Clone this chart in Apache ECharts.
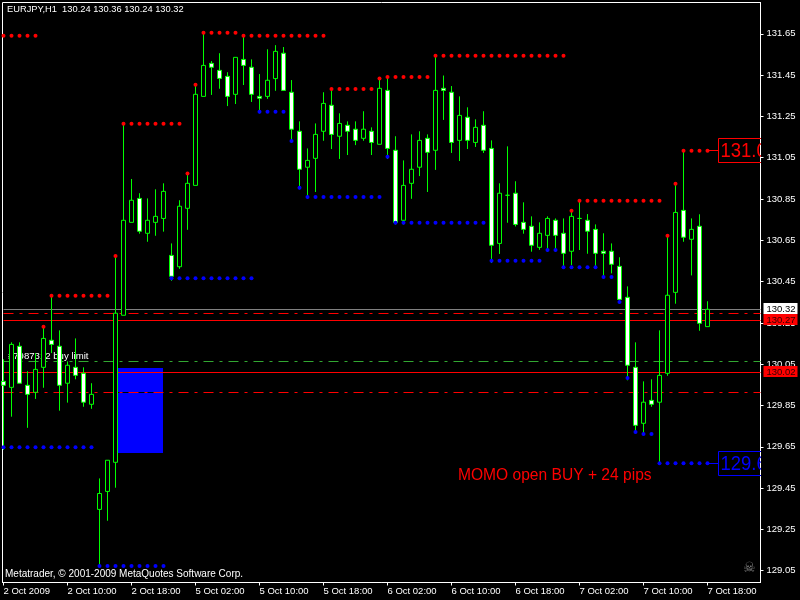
<!DOCTYPE html>
<html>
<head>
<meta charset="utf-8">
<style>html,body{margin:0;padding:0;background:#000;overflow:hidden}#c{width:800px;height:600px}</style>
<script src="https://cdn.jsdelivr.net/npm/echarts@6/dist/echarts.min.js"></script>
</head>
<body>
<div id="c"></div>
<script>
const opens = [129.967,129.938,130.137,129.948,129.914,130.035,130.166,130.137,129.958,130.035,130.006,129.856,129.347,129.434,129.575,130.287,130.737,130.853,130.684,130.737,130.756,130.577,130.522,130.805,130.916,131.347,131.507,131.473,131.444,131.357,131.526,131.488,131.347,131.347,131.433,131.556,131.367,131.178,131.004,131.047,131.178,131.304,131.154,131.207,131.188,131.144,131.178,131.115,131.376,131.086,130.747,130.926,131.004,131.144,131.086,131.386,131.367,131.134,131.246,131.124,131.207,131.095,130.635,130.868,130.878,130.737,130.718,130.616,130.674,130.747,130.684,130.597,130.756,130.747,130.703,130.597,130.597,130.524,130.374,130.035,129.764,129.875,129.866,130.006,130.398,130.795,130.655,130.718,130.232];
const closes = [129.948,130.146,129.958,129.904,130.025,130.175,130.146,129.948,130.045,129.996,129.866,129.904,129.424,129.585,130.297,130.747,130.844,130.694,130.747,130.766,130.887,130.476,130.815,130.926,131.357,131.497,131.488,131.434,131.347,131.536,131.497,131.357,131.338,131.425,131.565,131.376,131.188,130.994,131.037,131.163,131.313,131.163,131.216,131.178,131.134,131.188,131.124,131.386,131.095,130.737,130.916,130.994,131.134,131.076,131.376,131.376,131.124,131.255,131.134,131.197,131.086,130.626,130.878,130.868,130.727,130.703,130.626,130.684,130.756,130.674,130.587,130.766,130.756,130.694,130.587,130.587,130.534,130.364,130.045,129.754,129.866,129.856,129.996,130.384,130.785,130.665,130.703,130.248,130.316];
const highs = [130.074,130.156,130.156,130.016,130.103,130.232,130.382,130.214,130.064,130.175,130.035,129.958,129.497,129.585,130.575,131.215,130.947,130.878,130.853,130.897,130.926,130.635,130.844,130.973,131.404,131.655,131.518,131.556,131.464,131.536,131.636,131.526,131.455,131.575,131.595,131.586,131.426,131.226,131.095,131.216,131.367,131.381,131.265,131.226,131.226,131.275,131.197,131.433,131.439,131.154,131.037,131.163,131.178,131.163,131.544,131.448,131.397,131.347,131.294,131.236,131.275,131.134,130.926,131.105,130.936,130.834,130.766,130.737,130.766,130.756,130.756,130.793,130.841,130.777,130.727,130.684,130.635,130.568,130.427,130.156,129.967,129.977,130.214,130.672,130.924,131.084,130.756,130.776,130.355];
const lows = [129.635,129.796,129.958,129.742,129.882,129.936,130.104,129.825,129.864,129.977,129.844,129.834,129.069,129.292,129.452,130.287,130.737,130.682,130.643,130.672,130.692,130.454,130.512,130.701,130.916,131.347,131.354,131.384,131.300,131.310,131.402,131.320,131.265,131.335,131.374,131.376,131.123,130.897,130.851,130.884,131.132,131.092,131.044,131.063,131.111,131.132,131.063,131.115,131.044,130.727,130.727,130.851,130.961,130.884,130.991,131.233,131.073,131.034,131.092,131.102,131.073,130.540,130.584,130.735,130.717,130.682,130.595,130.604,130.595,130.595,130.514,130.530,130.603,130.585,130.514,130.466,130.490,130.345,129.972,129.715,129.708,129.844,129.570,129.994,130.343,130.643,130.480,130.212,130.232];

const timeLabels = ['2 Oct 2009','2 Oct 10:00','2 Oct 18:00','5 Oct 02:00','5 Oct 10:00','5 Oct 18:00','6 Oct 02:00','6 Oct 10:00','6 Oct 18:00','7 Oct 02:00','7 Oct 10:00','7 Oct 18:00'];
const timeTicks = [0,8,16,24,32,40,48,56,64,72,80,88];
const priceTicks = [129.05,129.25,129.45,129.65,129.85,130.05,130.25,130.45,130.65,130.85,131.05,131.25,131.45,131.65];

// [first bar, last bar, price]
const resistanceRuns = [[0,4,131.641],[5,5,130.232],[6,13,130.382],[14,14,130.574],[15,22,131.215],[23,23,130.973],[24,24,131.403],[25,29,131.655],[30,40,131.641],[41,46,131.383],[47,47,131.433],[48,53,131.441],[54,70,131.544],[71,71,130.793],[72,82,130.841],[83,83,130.672],[84,84,130.924],[85,88,131.084]];
const supportRuns = [[0,11,129.648],[12,20,129.073],[21,31,130.466],[32,35,131.272],[36,36,131.131],[37,37,130.904],[38,47,130.860],[48,48,131.055],[49,60,130.735],[61,67,130.551],[68,69,130.603],[70,74,130.520],[75,76,130.472],[77,77,130.351],[78,78,129.983],[79,79,129.722],[80,81,129.712],[82,88,129.571]];

const levelPrices = [130.315,130.296,130.263,130.065,130.012,129.915];
const levelColors = ['#808080','#ff0000','#ff0000','#32a832','#ff0000','#ff0000'];
const levelDashes = [null,[10,6,3,6],null,[10,6,3,6],null,[10,6,3,6]];

const tagPrices = [130.315,130.263,130.012];
const tagTexts = ['130.32','130.27','130.02'];
const tagFills = ['#ffffff','#ff0000','#ff0000'];

const zoneBars = [14.31,19.94];
const zonePrices = [130.03,129.62];
const zoneLinePrice = 129.915;

const calloutPrices = [131.084,129.571];
const calloutTexts = ['131.0','129.6'];
const calloutColors = ['#ff0000','#0000ff'];
const notes = [[56.8,129.508,'MOMO open BUY + 24 pips','#ff0000',15.6],[0.55,130.09,'#7987312 buy limit','#ffffff',9.6]];

const font = '"Liberation Sans", Arial, sans-serif';
const expand = runs => runs.flatMap(r => { const a = []; for (let k = r[0]; k <= r[1]; k++) a.push([k, r[2]]); return a; });
const candles = opens.map((o, i) => [i, o, closes[i], lows[i], highs[i]]);

const chart = echarts.init(document.getElementById('c'), null, {renderer:'canvas'});
chart.setOption({
  backgroundColor:'#000000',
  animation:false,
  grid:{left:2.5,top:2.5,width:758,height:580,show:true,borderColor:'#ffffff',borderWidth:1,backgroundColor:'#000000'},
  xAxis:{
    type:'value',min:-0.125,max:94.625,
    splitLine:{show:false},
    axisLine:{show:true,onZero:false,lineStyle:{color:'#ffffff'}},
    axisTick:{show:true,length:3,customValues:timeTicks,lineStyle:{color:'#ffffff'}},
    axisLabel:{show:true,customValues:timeTicks,margin:4,align:'left',color:'#ffffff',fontFamily:font,fontSize:9.5,hideOverlap:false,
      formatter:v=>timeLabels[timeTicks.indexOf(Math.round(v))]}
  },
  yAxis:{
    type:'value',position:'right',min:128.993,max:131.8016,scale:true,
    splitLine:{show:false},
    axisLine:{show:true,onZero:false,lineStyle:{color:'#ffffff'}},
    axisTick:{show:true,length:3,customValues:priceTicks,lineStyle:{color:'#ffffff'}},
    axisLabel:{show:true,customValues:priceTicks,margin:6,color:'#ffffff',fontFamily:font,fontSize:9.5,hideOverlap:false,
      formatter:v=>v.toFixed(2)}
  },
  graphic:[
    {type:'text',left:7,top:5,silent:true,style:{text:'EURJPY,H1  130.24 130.36 130.24 130.32',fill:'#ffffff',font:'9.3px '+font}},
    {type:'text',left:5,top:569,z:20,silent:true,style:{text:'Metatrader, © 2001-2009 MetaQuotes Software Corp.',fill:'#ffffff',font:'10px '+font}},
    {type:'text',left:743,top:561,z:20,silent:true,style:{text:'\u2620',fill:'#808080',font:'14px "DejaVu Sans"'}}
  ],
  series:[
    {type:'custom',name:'zone',z:1,coordinateSystem:'cartesian2d',silent:true,data:[[zoneBars[0],zonePrices[0]]],
     renderItem:(p,api)=>{
       const a=api.coord([zoneBars[0],zonePrices[0]]),b=api.coord([zoneBars[1],zonePrices[1]]),c=api.coord([zoneBars[0],zoneLinePrice]);
       return {type:'group',children:[
         {type:'rect',shape:{x:Math.round(a[0]),y:Math.round(a[1]),width:Math.round(b[0]-a[0]),height:Math.round(b[1]-a[1])},style:{fill:'#0000ff'}},
         {type:'line',shape:{x1:Math.round(a[0]),y1:Math.floor(c[1])+.5,x2:Math.round(b[0]),y2:Math.floor(c[1])+.5},style:{stroke:'#000000',lineWidth:1}}
       ]};
     }},
    {type:'custom',name:'levels',z:2,coordinateSystem:'cartesian2d',silent:true,data:levelPrices.map(v=>[0,v]),
     renderItem:(p,api)=>{
       const i=p.dataIndex,y=Math.floor(api.coord([0,levelPrices[i]])[1])+.5,s=p.coordSys;
       return {type:'line',shape:{x1:s.x+1,y1:y,x2:s.x+s.width,y2:y},style:{stroke:levelColors[i],lineWidth:1,lineDash:levelDashes[i]||undefined}};
     }},
    {type:'custom',name:'notes',z:3,coordinateSystem:'cartesian2d',silent:true,data:notes.map(n=>[n[0],n[1]]),
     renderItem:(p,api)=>{
       const n=notes[p.dataIndex],c=api.coord([n[0],n[1]]);
       return {type:'text',x:c[0],y:c[1],style:{text:n[2],fill:n[3],font:n[4]+'px '+font,verticalAlign:'middle',align:'left'}};
     }},
    {type:'candlestick',name:'EURJPY,H1',z:4,silent:true,barWidth:4,clip:true,data:candles,encode:{x:0,y:[1,2,3,4]},
     itemStyle:{color:'#000000',color0:'#ffffff',borderColor:'#00ff00',borderColor0:'#00ff00',borderColorDoji:'#00ff00',borderWidth:1}},
    {type:'scatter',name:'resistance',z:5,silent:true,symbol:'circle',symbolSize:4,clip:true,data:expand(resistanceRuns),itemStyle:{color:'#ff0000',opacity:1}},
    {type:'scatter',name:'support',z:5,silent:true,symbol:'circle',symbolSize:4,clip:true,data:expand(supportRuns),itemStyle:{color:'#0000ff',opacity:1}},
    {type:'custom',name:'callouts',z:6,coordinateSystem:'cartesian2d',silent:true,clip:true,data:calloutPrices.map(v=>[88,v]),
     renderItem:(p,api)=>{
       const i=p.dataIndex,c=api.coord([88,calloutPrices[i]]),y=Math.floor(c[1])+.5,x=Math.floor(c[0])+.5,col=calloutColors[i];
       return {type:'group',children:[
         {type:'line',shape:{x1:x,y1:y,x2:x+11,y2:y},style:{stroke:col,lineWidth:1}},
         {type:'rect',shape:{x:x+11,y:y-12,width:60,height:24},style:{fill:'none',stroke:col,lineWidth:1}},
         {type:'text',x:x+13,y:y+1,scaleX:0.88,style:{text:calloutTexts[i],fill:col,font:'21px '+font,verticalAlign:'middle'}}
       ]};
     }},
    {type:'custom',name:'tags',z:7,coordinateSystem:'cartesian2d',silent:true,clip:false,data:tagPrices.map(v=>[94,v]),
     renderItem:(p,api)=>{
       const i=p.dataIndex,y=Math.floor(api.coord([0,tagPrices[i]])[1]),s=p.coordSys,x=s.x+s.width+3;
       return {type:'group',children:[
         {type:'rect',shape:{x:x,y:y-6,width:34,height:11},style:{fill:tagFills[i]}},
         {type:'text',x:x+3,y:y,style:{text:tagTexts[i],fill:i?'#300000':'#000000',font:'9.5px '+font,verticalAlign:'middle'}}
       ]};
     }}
  ]
});
</script>
</body>
</html>
